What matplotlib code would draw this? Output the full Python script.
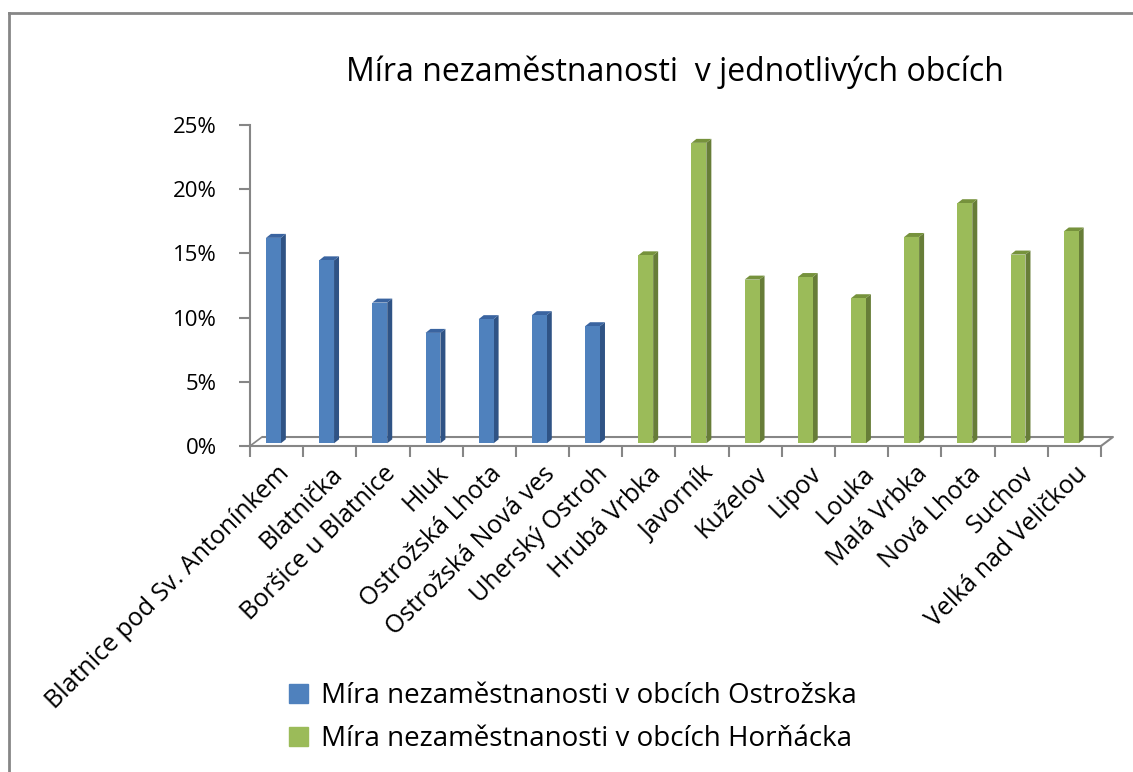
import numpy as np
import matplotlib.pyplot as plt
from matplotlib.lines import Line2D
from matplotlib.patches import Patch

plt.rcParams['font.family'] = ['Open Sans', 'DejaVu Sans']

# data
obce_ostrozsko = ['Blatnice pod Sv. Antonínkem', 'Blatnička', 'Boršice u Blatnice',
                  'Hluk', 'Ostrožská Lhota', 'Ostrožská Nová ves', 'Uherský Ostroh']
mira_ostrozsko = [0.160, 0.1425, 0.1096, 0.086, 0.0967, 0.0998, 0.0912]

obce_hornacko = ['Hrubá Vrbka', 'Javorník', 'Kuželov', 'Lipov', 'Louka',
                 'Malá Vrbka', 'Nová Lhota', 'Suchov', 'Velká nad Veličkou']
mira_hornacko = [0.1464, 0.234, 0.1275, 0.1295, 0.113, 0.1607, 0.187, 0.147, 0.165]

label_ostrozsko = 'Míra nezaměstnanosti v obcích Ostrožska'
label_hornacko = 'Míra nezaměstnanosti v obcích Horňácka'
title = 'Míra nezaměstnanosti  v jednotlivých obcích'

# styling
blue = ('#4F81BD', '#2F5385', '#3A64A0')     # front, side, top
green = ('#9BBB59', '#677D38', '#76923C')
grey = '#868686'
w = 0.28        # front face width (category units)
off = -0.06     # front face centre shift
dx = 0.094      # depth in x
dy = 0.0031     # depth in y
lift = 0.0021   # bars stand slightly above the front floor edge

W, H = 1133, 772
fig = plt.figure(figsize=(W / 100, H / 100), dpi=100)
ax = fig.add_axes([250 / W, 1 - 446 / H, 851 / W, 321 / H])

names = obce_ostrozsko + obce_hornacko
n = len(names)


def draw_bars(xs, vals, cols):
    for x, v in zip(xs, vals):
        x0 = x + off - w / 2
        x1 = x + off + w / 2
        top = lift + v
        ax.fill([x1, x1 + dx, x1 + dx, x1], [lift, lift + dy, top + dy, top],
                color=cols[1], lw=0, zorder=3)
        ax.fill([x0, x1, x1 + dx, x0 + dx], [top, top, top + dy, top + dy],
                color=cols[2], lw=0, zorder=3)
    ax.bar(np.array(xs) + off, vals, width=w, bottom=lift, color=cols[0],
           lw=0, zorder=4)


xs_o = list(range(len(obce_ostrozsko)))
xs_h = list(range(len(obce_ostrozsko), n))
draw_bars(xs_o, mira_ostrozsko, blue)
draw_bars(xs_h, mira_hornacko, green)

# floor
fx = 0.225
fy = 0.007
ax.plot([-0.5 + fx, n - 0.5 + fx, n - 0.5], [fy, fy, 0], color=grey, lw=1.5,
        zorder=2, clip_on=False, solid_capstyle='butt')
ax.plot([-0.5, -0.5 + fx], [0, fy], color=grey, lw=1.2, zorder=2, clip_on=False)

ax.set_xlim(-0.5, n - 0.5)
ax.set_ylim(0, 0.25)
ax.set_yticks(np.arange(0, 0.26, 0.05))
ax.set_yticklabels([f'{int(round(t * 100))}%' for t in np.arange(0, 0.26, 0.05)],
                   fontsize=16)
ax.set_xticks(np.arange(-0.5, n, 1.0), minor=False)
ax.set_xticklabels([])
ax.set_xticks(np.arange(n), minor=True)
ax.set_xticklabels(names, minor=True, rotation=45, ha='right',
                   rotation_mode='anchor', fontsize=18)
ax.tick_params(axis='x', which='minor', length=0, pad=11)
ax.tick_params(axis='x', which='major', length=8, width=1.5, color=grey)
ax.tick_params(axis='y', length=8, width=1.5, color=grey, pad=16)

for s in ['top', 'right']:
    ax.spines[s].set_visible(False)
for s in ['left', 'bottom']:
    ax.spines[s].set_color(grey)
    ax.spines[s].set_linewidth(1.5)

fig.text(675 / W, 1 - 72 / H, title, fontsize=23, ha='center', va='center')

handles = [Patch(color=blue[0]), Patch(color=green[0])]
fig.legend(handles, [label_ostrozsko, label_hornacko], loc='upper left',
           bbox_to_anchor=(264 / W, 1 - 657 / H), frameon=False, fontsize=20,
           handlelength=0.7, handleheight=0.7, handletextpad=0.45,
           labelspacing=0.55)

# chart area border (cropped on the right and bottom)
fig.add_artist(Line2D([9 / W, 9 / W], [0, 1 - 13 / H], color=grey, lw=2))
fig.add_artist(Line2D([9 / W, 1], [1 - 13 / H, 1 - 13 / H], color=grey, lw=2))

fig.savefig('out.png', dpi=100)
